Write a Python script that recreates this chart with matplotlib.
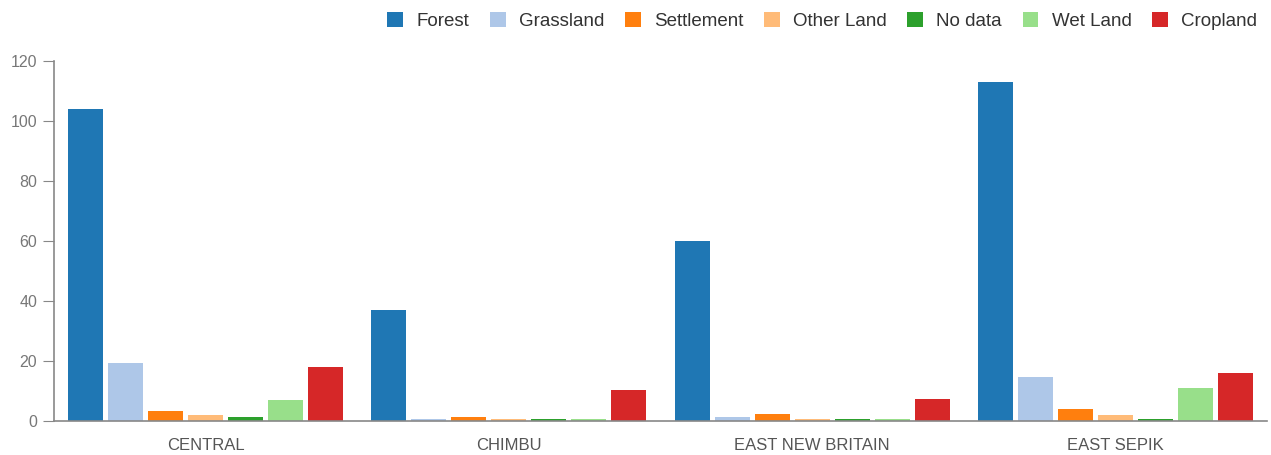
import numpy as np
import matplotlib
matplotlib.use('Agg')
import matplotlib.pyplot as plt
from matplotlib.patches import Patch

plt.rcParams['font.family'] = ['Liberation Sans', 'DejaVu Sans']

provinces = ['CENTRAL', 'CHIMBU', 'EAST NEW BRITAIN', 'EAST SEPIK']
classes = ['Forest', 'Grassland', 'Settlement', 'Other Land', 'No data', 'Wet Land', 'Cropland']
colors = ['#1f77b4', '#aec7e8', '#ff7f0e', '#ffbb78', '#2ca02c', '#98df8a', '#d62728']

forest = [104, 37, 60, 113]
grassland = [19.3, 0.7, 1.4, 14.8]
settlement = [3.3, 1.4, 2.2, 3.9]
other_land = [2.0, 0.6, 0.6, 1.9]
no_data = [1.3, 0.7, 0.7, 0.7]
wet_land = [7.0, 0.6, 0.6, 10.9]
cropland = [18, 10.4, 7.3, 15.9]
series = [forest, grassland, settlement, other_land, no_data, wet_land, cropland]

fig = plt.figure(figsize=(12.71, 4.55), dpi=100)
ax = fig.add_axes([54/1271, 1-421/455, (1267-54)/1271, (421-61)/455])

x = np.arange(len(provinces))
step = 40/303.
w = 35/303.
for i, (vals, c) in enumerate(zip(series, colors)):
    off = (i - 3) * step
    ax.bar(x + off, vals, width=w, color=c, linewidth=0)

ax.set_xlim(-0.5, 3.5)
ax.set_ylim(0, 120)
ax.set_yticks(np.arange(0, 121, 20))
ax.set_xticks(x)
ax.set_xticklabels(provinces)
for s in ['top', 'right']:
    ax.spines[s].set_visible(False)
for s in ['left', 'bottom']:
    ax.spines[s].set_color('#888888')
    ax.spines[s].set_linewidth(1.2)
ax.tick_params(axis='y', length=8, color='#888888', labelcolor='#777777', labelsize=11.5, pad=4)
ax.tick_params(axis='x', length=0, labelcolor='#555555', labelsize=12, pad=12)

handles = [Patch(facecolor=c, edgecolor='none', label=l) for c, l in zip(colors, classes)]
fig.legend(handles=handles, loc='upper right', bbox_to_anchor=(1274/1271, 1 + 5/455), ncol=7,
           frameon=False, fontsize=13.5, handlelength=0.85, handleheight=0.85,
           handletextpad=0.7, columnspacing=1.1, labelcolor='#333333')

plt.savefig('out.png', dpi=100)
